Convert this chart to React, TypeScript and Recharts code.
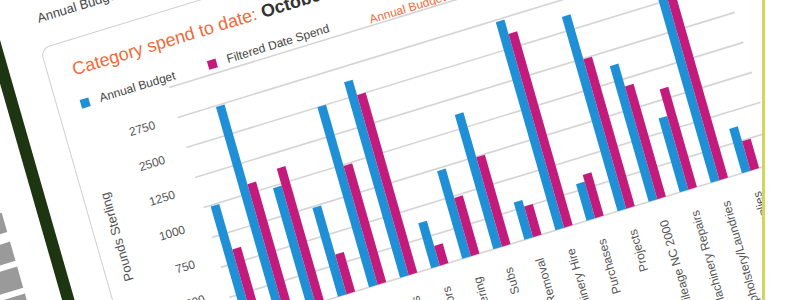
import React from 'react';
import { BarChart, Bar, XAxis, YAxis, CartesianGrid, Legend } from 'recharts';

// ---- data ----
const categories = [
  'Advertising',
  'Books',
  'Cleaning Materials',
  'Computer Equipment',
  'Consumables',
  'Educational Resources',
  'Contractors',
  'Catering',
  'Subs',
  'Waste Removal',
  'Machinery Hire',
  'Purchases',
  'Projects',
  'Mileage NC 2000',
  'Machinery Repairs',
  'Upholstery/Laundries',
  'Supplies',
];
const annualBudget = [990, 1740, 985, 740, 1500, 1630, 375, 730, 1120, 310, 1735, 305, 1620, 1130, 615, 1850, 370];
const filteredDateSpend = [610, 1075, 1125, 330, 990, 1500, 165, 485, 745, 255, 1615, 360, 1245, 940, 835, 1800, 245];
const seriesNames = ['Annual Budget', 'Filtered Date Spend'];
const tickValues = [0, 250, 500, 750, 1000, 1250, 1500, 1750];
const tickLabels = ['0', '250', '500', '750', '1000', '1250', '2500', '2750'];
const headerText = 'Annual Budget Summary';
const titleText = 'Category spend to date: ';
const titleMonth = 'October 2012';
const sideNote = 'Annual Budget Total';
const yAxisTitle = 'Pounds Sterling';

const data = categories.map((name, i) => ({
  name,
  budget: annualBudget[i],
  spend: filteredDateSpend[i],
}));

const FONT = '"Liberation Sans", Arial, sans-serif';
const BLUE = '#1f8fd6';
const PINK = '#c31b7c';
const ORANGE = '#ef6a3a';

// flat frame offset (u -> local X = u + 120)
const OX = 120;

const CategoryTick = (props: any) => {
  const { x, y, payload } = props;
  return (
    <g transform={`translate(${x},${y})`}>
      <text
        x={0}
        y={0}
        dy={4}
        textAnchor="end"
        transform="rotate(-90)"
        fill="#555"
        fontSize={12}
        fontFamily={FONT}
      >
        {payload.value}
      </text>
    </g>
  );
};

// the photographed axis labels drift slightly downward from their gridlines
const ValueTick = (props: any) => {
  const { x, y, payload } = props;
  const top = tickValues[tickValues.length - 1];
  const drift = (top - payload.value) * 0.02;
  const idx = tickValues.indexOf(payload.value);
  return (
    <text
      x={x}
      y={y + drift}
      dy="0.355em"
      textAnchor="end"
      fill="#555"
      fontSize={12}
      fontFamily={FONT}
    >
      {idx >= 0 ? tickLabels[idx] : String(payload.value)}
    </text>
  );
};

const renderYLabel = (props: any) => {
  const vb = props && props.viewBox ? props.viewBox : { x: 0, y: 33, width: 108.6, height: 249.6 };
  const cx = vb.x + 17;
  const cy = vb.y + vb.height / 2 + 3;
  return (
    <text
      x={cx}
      y={cy}
      transform={`rotate(-90 ${cx} ${cy})`}
      textAnchor="middle"
      dominantBaseline="central"
      fill="#555"
      fontSize={13}
      fontFamily={FONT}
    >
      {yAxisTitle}
    </text>
  );
};

const renderLegend = (props: any) => {
  const payload = props.payload || [];
  return (
    <div style={{ display: 'flex', fontFamily: FONT, fontSize: 12, color: '#444', lineHeight: '14px' }}>
      {payload.map((p: any, i: number) => (
        <div
          key={i}
          style={{ display: 'flex', alignItems: 'center', width: i === 0 ? 133 : 'auto', whiteSpace: 'nowrap' }}
        >
          <span style={{ display: 'inline-block', width: 9, height: 9, background: p.color, marginRight: 11 }} />
          <span>{p.value}</span>
        </div>
      ))}
    </div>
  );
};

const grayBlocks = [
  [204, 224],
  [234, 254],
  [260, 282],
  [288, 310],
  [316, 338],
  [344, 366],
];

export default function App() {
  return (
    <div
      style={{
        position: 'fixed',
        left: 0,
        top: 0,
        width: 792,
        height: 300,
        overflow: 'hidden',
        background: '#fff',
        fontFamily: FONT,
      }}
    >
      <div
        style={{
          position: 'absolute',
          left: 0,
          top: 0,
          width: 1000,
          height: 620,
          transformOrigin: '0 0',
          transform: 'matrix(0.9563,-0.2924,0.2756,0.9613,-114.76,35.09)',
          background: '#fff',
        }}
      >
        {grayBlocks.map((b, i) => (
          <div
            key={i}
            style={{ position: 'absolute', left: 0, top: b[0], width: 63, height: b[1] - b[0], background: '#9a9a9a' }}
          />
        ))}
        <div style={{ position: 'absolute', left: -23 + OX, top: -200, width: 12, height: 800, background: '#1e3512' }} />

        <div
          style={{
            position: 'absolute',
            left: 31 + OX,
            top: 21,
            fontSize: 13,
            lineHeight: '16px',
            color: '#444',
            whiteSpace: 'nowrap',
          }}
        >
          {headerText}
        </div>

        <div
          style={{
            position: 'absolute',
            left: 25 + OX,
            top: 58,
            width: 900,
            height: 600,
            border: '1.5px solid #cfcfcf',
            borderRadius: 10,
            boxSizing: 'border-box',
          }}
        />

        <div
          style={{
            position: 'absolute',
            left: 50.7 + OX,
            top: 77,
            fontSize: 18,
            lineHeight: '22px',
            whiteSpace: 'nowrap',
          }}
        >
          <span style={{ color: ORANGE }}>{titleText}</span>
          <span style={{ color: '#333', fontWeight: 'bold' }}>{titleMonth}</span>
        </div>

        <div
          style={{
            position: 'absolute',
            left: 350 + OX,
            top: 119,
            fontSize: 12,
            lineHeight: '16px',
            color: ORANGE,
            whiteSpace: 'nowrap',
          }}
        >
          {sideNote}
        </div>

        <div style={{ position: 'absolute', left: 30 + OX, top: 100 }}>
          <BarChart
            width={700}
            height={460}
            data={data}
            margin={{ top: 33.1, right: 27, bottom: 27.3, left: 0 }}
            barSize={9}
            barGap={0}
          >
            <CartesianGrid horizontal vertical={false} stroke="#d4d4d4" strokeWidth={1.6} />
            <XAxis
              dataKey="name"
              interval={0}
              height={150}
              tick={<CategoryTick />}
              tickLine={false}
              axisLine={false}
              tickMargin={16}
              padding={{ left: 0, right: 12 }}
            />
            <YAxis
              width={108.6}
              domain={[0, 2000]}
              ticks={tickValues}
              tickLine={false}
              axisLine={false}
              tickMargin={18}
              tick={<ValueTick />}
              label={renderYLabel}
            />
            <Legend
              layout="horizontal"
              verticalAlign="middle"
              align="center"
              content={renderLegend}
              wrapperStyle={{ left: 18.8, top: 16.4, width: 'auto', height: 14 }}
            />
            <Bar dataKey="budget" name={seriesNames[0]} fill={BLUE} isAnimationActive={false} />
            <Bar dataKey="spend" name={seriesNames[1]} fill={PINK} isAnimationActive={false} />
          </BarChart>
        </div>
      </div>

      <div style={{ position: 'absolute', left: 762, top: 0, width: 3, height: 300, background: '#cfd85c' }} />
      <div style={{ position: 'absolute', left: 765, top: 0, width: 27, height: 300, background: '#fff' }} />
    </div>
  );
}
